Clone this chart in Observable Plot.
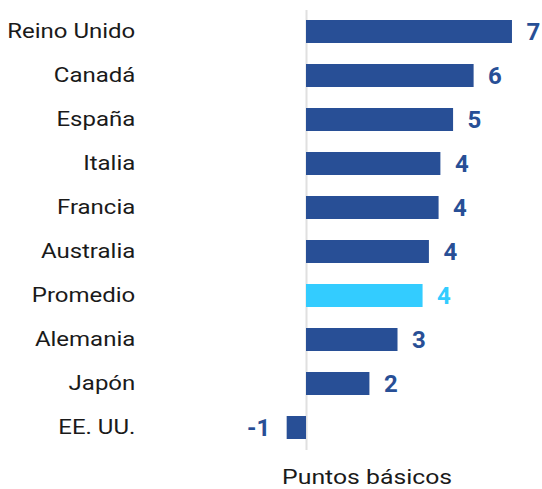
<!DOCTYPE html>
<html><head><meta charset="utf-8">
<script src="https://cdn.jsdelivr.net/npm/d3@7"></script>
<script src="https://cdn.jsdelivr.net/npm/@observablehq/plot@0.6"></script>
<style>body{margin:0;background:#fff}</style>
</head><body><div id="chart"></div>
<script>
const countries = ["Reino Unido","Canadá","España","Italia","Francia","Australia","Promedio","Alemania","Japón","EE. UU."];
const values = [6.82, 5.55, 4.87, 4.45, 4.39, 4.07, 3.86, 3.03, 2.10, -0.64];
const labels = ["7","6","5","4","4","4","4","3","2","-1"];
const highlight = "Promedio";
const axisTitle = "Puntos básicos";

const dark = "#284f96", light = "#33ccff";
const data = countries.map((c, i) => ({country: c, value: values[i], label: labels[i], color: c === highlight ? light : dark}));

const chart = Plot.plot({
  width: 542, height: 489,
  marginLeft: 275.8, marginRight: 24.6, marginTop: 10, marginBottom: 39,
  style: {fontFamily: "Roboto", background: "#fff"},
  x: {domain: [-1, 7], axis: null},
  y: {domain: countries, paddingInner: 0.466, paddingOuter: 0.233, axis: null},
  marks: [
    Plot.ruleX([0], {stroke: "#e0e0e0", strokeWidth: 2}),
    Plot.barX(data, {x: "value", y: "country", fill: "color"}),
    Plot.axisY({tickSize: 0, tickPadding: 141, fontSize: 20, color: "#1a1a1a", label: null}),
    Plot.text(data.filter(d => d.value >= 0), {x: "value", y: "country", text: "label", fill: "color", textAnchor: "start", dx: 14, fontSize: 24, fontWeight: "bold"}),
    Plot.text(data.filter(d => d.value < 0), {x: "value", y: "country", text: "label", fill: "color", textAnchor: "end", dx: -17, fontSize: 24, fontWeight: "bold"}),
    Plot.text([axisTitle], {frameAnchor: "bottom", dx: -30, dy: 27, fontSize: 20, fill: "#1a1a1a", lineAnchor: "middle"})
  ]
});
// widen the regular-weight glyphs horizontally around each text's anchor point
chart.querySelectorAll("text").forEach(t => {
  if (labels.includes(t.textContent)) return;
  const s = t.textContent === axisTitle ? 1.24 : 1.2;
  const tr = t.getAttribute("transform");
  if (tr) t.setAttribute("transform", tr + ` scale(${s},1)`);
  else {
    const x = +t.getAttribute("x") || 0, y = +t.getAttribute("y") || 0;
    t.removeAttribute("x"); t.removeAttribute("y");
    t.setAttribute("transform", `translate(${x},${y}) scale(${s},1)`);
  }
});
document.getElementById("chart").append(chart);
</script>
</body></html>
